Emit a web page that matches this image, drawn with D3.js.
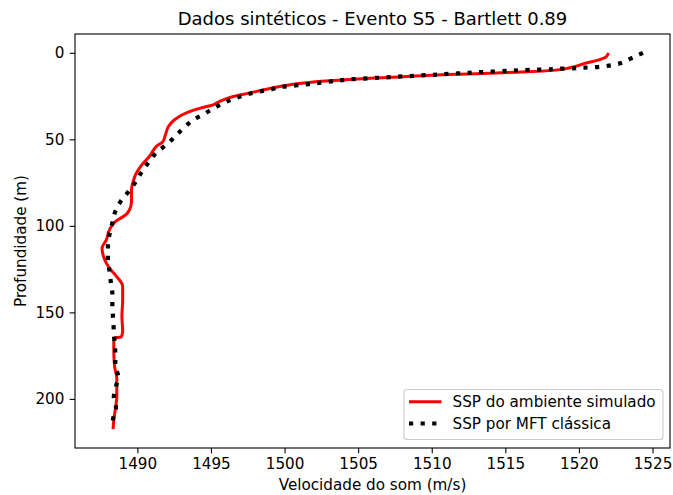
<!DOCTYPE html>
<html>
<head>
<meta charset="utf-8">
<script src="https://cdn.jsdelivr.net/npm/d3@7"></script>
<style>
  html, body { margin: 0; padding: 0; background: #fff; }
  svg { display: block; font-family: "DejaVu Sans", sans-serif; }
</style>
</head>
<body>
<svg id="chart" width="673" height="495"></svg>
<script>
// Sound-speed profile of the simulated environment (depth in m, speed in m/s)
const simDepth = [0, 2.3, 4.2, 6.1, 8.6, 10, 11, 11.9, 12.6, 13.4, 14.4, 15.4, 16.7, 18.2, 20.6, 23.3,
  25.5, 28, 30.2, 31.7, 34.4, 38.8, 42.7, 47.5, 51.7, 53.6, 56.1, 59, 64.8, 70, 73.5, 79.2, 86, 91,
  93.7, 97.5, 102.3, 108, 112.9, 117.7, 124.4, 129.3, 135, 142.7, 152.3, 161, 164.2, 164.8, 171.6,
  181.2, 187.9, 198.5, 206.2, 212, 217.5];
const simSpeed = [1522.0, 1521.85, 1521.3, 1520.4, 1519.4, 1518.4, 1516.5, 1513.5, 1511.0, 1508.9,
  1506.6, 1504.4, 1502.1, 1500.6, 1499.0, 1497.6, 1496.4, 1495.6, 1495.1, 1494.4, 1493.4, 1492.5,
  1492.1, 1491.9, 1491.7, 1491.35, 1491.1, 1490.9, 1490.3, 1489.9, 1489.75, 1489.6, 1489.6, 1489.45,
  1489.2, 1488.5, 1488.1, 1487.9, 1487.6, 1487.7, 1488.1, 1488.6, 1489.0, 1489.0, 1488.95, 1489.0,
  1488.9, 1488.4, 1488.4, 1488.45, 1488.6, 1488.6, 1488.5, 1488.4, 1488.35];

// Profile estimated by classical matched-field tomography
const mftDepth = [0, 0.9, 3.8, 6.5, 7.7, 8.3, 8.6, 9, 9.2, 9.6, 9.8, 10, 10.4, 10.7, 11, 11.3, 11.7,
  12.1, 12.5, 13.3, 14.4, 15.2, 16.7, 18.2, 19.6, 21.1, 22.5, 26.7, 32, 35.5, 38.8, 43, 48, 52.9,
  57.6, 62.9, 68.7, 74.4, 80.2, 85.4, 91.7, 98.4, 105.2, 112.3, 119, 125.8, 132.7, 139.4, 146.3,
  153.3, 160.6, 167.3, 173.9, 180.8, 187, 192.7, 198.9, 205.2, 211.5, 215];
const mftSpeed = [1524.35, 1524.1, 1523.4, 1522.6, 1521.8, 1521.1, 1520.3, 1519.4, 1518.6, 1517.8,
  1517.0, 1516.1, 1515.3, 1514.5, 1513.7, 1513.0, 1512.2, 1511.3, 1510.5, 1508.8, 1506.4, 1504.7,
  1503.0, 1501.5, 1499.9, 1499.1, 1498.2, 1496.5, 1495.2, 1494.5, 1493.8, 1493.2, 1492.6, 1492.0,
  1491.3, 1490.8, 1490.3, 1489.9, 1489.4, 1488.9, 1488.5, 1488.3, 1488.1, 1488.0, 1488.0, 1488.1,
  1488.2, 1488.3, 1488.3, 1488.35, 1488.4, 1488.45, 1488.5, 1488.5, 1488.7, 1488.55, 1488.4,
  1488.55, 1488.35, 1488.3];

const xTicks = [1490, 1495, 1500, 1505, 1510, 1515, 1520, 1525];
const yTicks = [0, 50, 100, 150, 200];

const seriesNames = ["SSP do ambiente simulado", "SSP por MFT clássica"];
const titleText = "Dados sintéticos - Evento S5 - Bartlett 0.89";
const xLabel = "Velocidade do som (m/s)";
const yLabel = "Profundidade (m)";

const W = 673, H = 495;
const margin = { left: 75, right: 3, top: 34, bottom: 47 };
const plotW = W - margin.left - margin.right;
const plotH = H - margin.top - margin.bottom;
const fontSize = 15.2, titleSize = 18;

const simData = simDepth.map((d, i) => ({ depth: d, speed: simSpeed[i] }));
const mftData = mftDepth.map((d, i) => ({ depth: d, speed: mftSpeed[i] }));

// Data limits padded by 5% on each side
function padded(values) {
  const [lo, hi] = d3.extent(values);
  const p = (hi - lo) * 0.05;
  return [lo - p, hi + p];
}
const x = d3.scaleLinear()
  .domain(padded(simSpeed.concat(mftSpeed)))
  .range([margin.left, margin.left + plotW]);
const y = d3.scaleLinear()
  .domain(padded(simDepth.concat(mftDepth)))
  .range([margin.top, margin.top + plotH]);

const svg = d3.select("#chart");

svg.append("defs").append("clipPath").attr("id", "plotClip")
  .append("rect")
  .attr("x", margin.left).attr("y", margin.top)
  .attr("width", plotW).attr("height", plotH);

const line = d3.line()
  .x(d => x(d.speed))
  .y(d => y(d.depth))
  .curve(d3.curveMonotoneY);

const plot = svg.append("g").attr("clip-path", "url(#plotClip)");

plot.append("path")
  .datum(simData)
  .attr("d", line)
  .attr("fill", "none")
  .attr("stroke", "#ff0000")
  .attr("stroke-width", 3)
  .attr("stroke-linejoin", "round");

plot.append("path")
  .datum(mftData)
  .attr("d", line)
  .attr("fill", "none")
  .attr("stroke", "#000")
  .attr("stroke-width", 4.2)
  .attr("stroke-dasharray", "4.2,7.4");

// Axes
const tickLen = 5.3, tickPad = 5.3;
const xAxis = d3.axisBottom(x).tickValues(xTicks).tickFormat(d3.format("d"))
  .tickSizeInner(tickLen).tickSizeOuter(0).tickPadding(tickPad);
const yAxis = d3.axisLeft(y).tickValues(yTicks).tickFormat(d3.format("d"))
  .tickSizeInner(tickLen).tickSizeOuter(0).tickPadding(tickPad);

const gx = svg.append("g")
  .attr("transform", `translate(0,${margin.top + plotH})`)
  .call(xAxis);
const gy = svg.append("g")
  .attr("transform", `translate(${margin.left},0)`)
  .call(yAxis);

[gx, gy].forEach(g => {
  g.select(".domain").remove();
  g.selectAll(".tick line").attr("stroke", "#000").attr("stroke-width", 1.1);
  g.selectAll(".tick text")
    .attr("fill", "#000")
    .style("font-family", "'DejaVu Sans', sans-serif")
    .style("font-size", fontSize + "px");
});

// Frame
svg.append("rect")
  .attr("x", margin.left).attr("y", margin.top)
  .attr("width", plotW).attr("height", plotH)
  .attr("fill", "none")
  .attr("stroke", "#000")
  .attr("stroke-width", 1.1);

// Title and axis labels
svg.append("text")
  .attr("x", margin.left + plotW / 2)
  .attr("y", 25)
  .attr("text-anchor", "middle")
  .style("font-size", titleSize + "px")
  .attr("fill", "#000")
  .text(titleText);

svg.append("text")
  .attr("x", margin.left + plotW / 2)
  .attr("y", 490)
  .attr("text-anchor", "middle")
  .style("font-size", fontSize + "px")
  .attr("fill", "#000")
  .text(xLabel);

svg.append("text")
  .attr("transform", `translate(26,${margin.top + plotH / 2}) rotate(-90)`)
  .attr("text-anchor", "middle")
  .style("font-size", fontSize + "px")
  .attr("fill", "#000")
  .text(yLabel);

// Legend
const lg = svg.append("g");
lg.append("rect")
  .attr("x", 404).attr("y", 389.5)
  .attr("width", 259).attr("height", 50)
  .attr("rx", 3).attr("ry", 3)
  .attr("fill", "#fff").attr("fill-opacity", 0.8)
  .attr("stroke", "#cccccc").attr("stroke-width", 1.1);

const legendStyles = [
  { stroke: "#ff0000", width: 3, dash: null },
  { stroke: "#000", width: 4.2, dash: "4.2,7.4" }
];
seriesNames.forEach((name, i) => {
  const cy = 401.7 + i * 21.8;
  const s = legendStyles[i];
  lg.append("line")
    .attr("x1", 409).attr("x2", 441.5)
    .attr("y1", cy).attr("y2", cy)
    .attr("stroke", s.stroke)
    .attr("stroke-width", s.width)
    .attr("stroke-dasharray", s.dash);
  lg.append("text")
    .attr("x", 452.5).attr("y", cy + 5.4)
    .style("font-size", fontSize + "px")
    .attr("fill", "#000")
    .text(name);
});
</script>
</body>
</html>
